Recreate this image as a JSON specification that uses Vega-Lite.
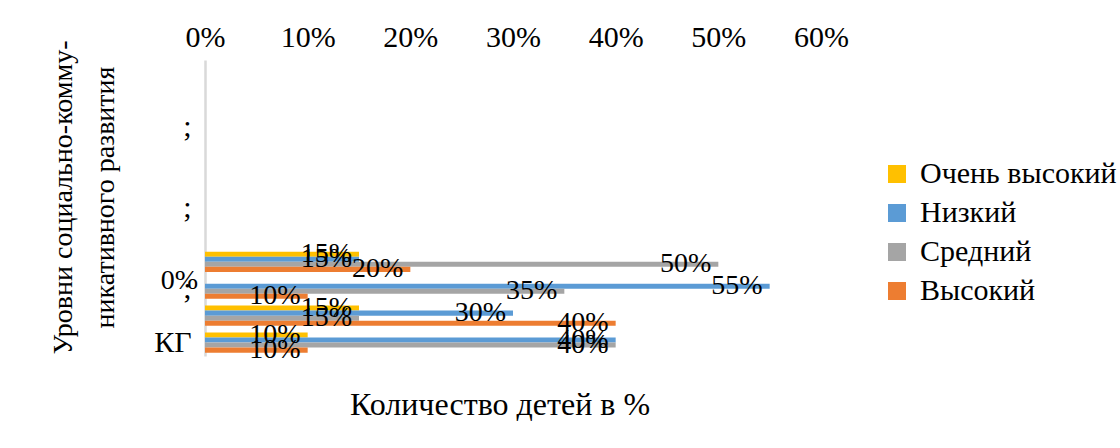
{
  "$schema": "https://vega.github.io/schema/vega-lite/v6.json",
  "autosize": "none",
  "width": 616,
  "height": 296,
  "padding": {"left": 205, "top": 60, "right": 299, "bottom": 92},
  "background": "white",
  "config": {
    "view": {"stroke": null},
    "font": "Liberation Serif, Times New Roman, serif",
    "axis": {"labelFont": "Liberation Serif, Times New Roman, serif", "titleFont": "Liberation Serif, Times New Roman, serif"},
    "legend": {"labelFont": "Liberation Serif, Times New Roman, serif"},
    "title": {"font": "Liberation Serif, Times New Roman, serif"},
    "text": {"font": "Liberation Serif, Times New Roman, serif"}
  },
  "title": {"text": "Количество детей в %", "orient": "bottom", "anchor": "middle", "offset": 26, "dx": -13, "fontSize": 32, "fontWeight": "normal", "color": "black"},
  "data": {"values": [
    {"cat": "c4", "level": "Очень высокий", "value": 0.15},
    {"cat": "c4", "level": "Низкий", "value": 0.15},
    {"cat": "c4", "level": "Средний", "value": 0.50},
    {"cat": "c4", "level": "Высокий", "value": 0.20},
    {"cat": "c3", "level": "Очень высокий", "value": 0.0},
    {"cat": "c3", "level": "Низкий", "value": 0.55},
    {"cat": "c3", "level": "Средний", "value": 0.35},
    {"cat": "c3", "level": "Высокий", "value": 0.10},
    {"cat": "c2", "level": "Очень высокий", "value": 0.15},
    {"cat": "c2", "level": "Низкий", "value": 0.30},
    {"cat": "c2", "level": "Средний", "value": 0.15},
    {"cat": "c2", "level": "Высокий", "value": 0.40},
    {"cat": "c1", "level": "Очень высокий", "value": 0.10},
    {"cat": "c1", "level": "Низкий", "value": 0.40},
    {"cat": "c1", "level": "Средний", "value": 0.40},
    {"cat": "c1", "level": "Высокий", "value": 0.10}
  ]},
  "encoding": {
    "y": {
      "field": "cat", "type": "nominal",
      "scale": {"domain": ["c11","c10","c9","c8","c7","c6","c5","c4","c3","c2","c1"], "paddingInner": 0.25, "paddingOuter": 0.125},
      "axis": {
        "labelExpr": "datum.value == 'c1' ? 'КГ' : ((datum.value == 'c3' || datum.value == 'c6' || datum.value == 'c9') ? ';' : '')",
        "domainColor": "#d9d9d9", "domainWidth": 2.5, "ticks": false, "grid": false,
        "labelFontSize": 30, "labelColor": "black", "labelPadding": 14,
        "title": ["Уровни социально-комму-", "никативного развития"],
        "titleFontSize": 28, "titleFontWeight": "normal", "titleColor": "black",
        "titleAngle": -90, "titleX": -142, "titleY": 137, "titleAlign": "center", "titleBaseline": "middle", "titleLineHeight": 42
      }
    },
    "yOffset": {"field": "level", "type": "nominal", "scale": {"domain": ["Очень высокий", "Низкий", "Средний", "Высокий"]}},
    "x": {
      "field": "value", "type": "quantitative",
      "scale": {"domain": [0, 0.6]},
      "axis": {"orient": "top", "values": [0, 0.1, 0.2, 0.3, 0.4, 0.5, 0.6], "format": ".0%", "domain": false, "ticks": false, "grid": false, "labelFlush": false, "labelFontSize": 30, "labelColor": "black", "labelPadding": 8, "title": null}
    }
  },
  "layer": [
    {
      "mark": {"type": "bar"},
      "encoding": {
        "color": {
          "field": "level", "type": "nominal",
          "scale": {"domain": ["Очень высокий", "Низкий", "Средний", "Высокий"], "range": ["#FFC000", "#5B9BD5", "#A5A5A5", "#ED7D31"]},
          "legend": {"orient": "none", "legendX": 677, "legendY": 99, "title": null, "symbolType": "square", "symbolSize": 324, "symbolStrokeWidth": 0, "labelFontSize": 30, "labelColor": "black", "labelLimit": 0, "rowPadding": 9, "labelOffset": 8, "padding": 0}
        }
      }
    },
    {
      "mark": {"type": "text", "align": "right", "dx": -7, "baseline": "middle", "fontSize": 28, "color": "black"},
      "encoding": {"text": {"field": "value", "type": "quantitative", "format": ".0%"}}
    }
  ]
}
